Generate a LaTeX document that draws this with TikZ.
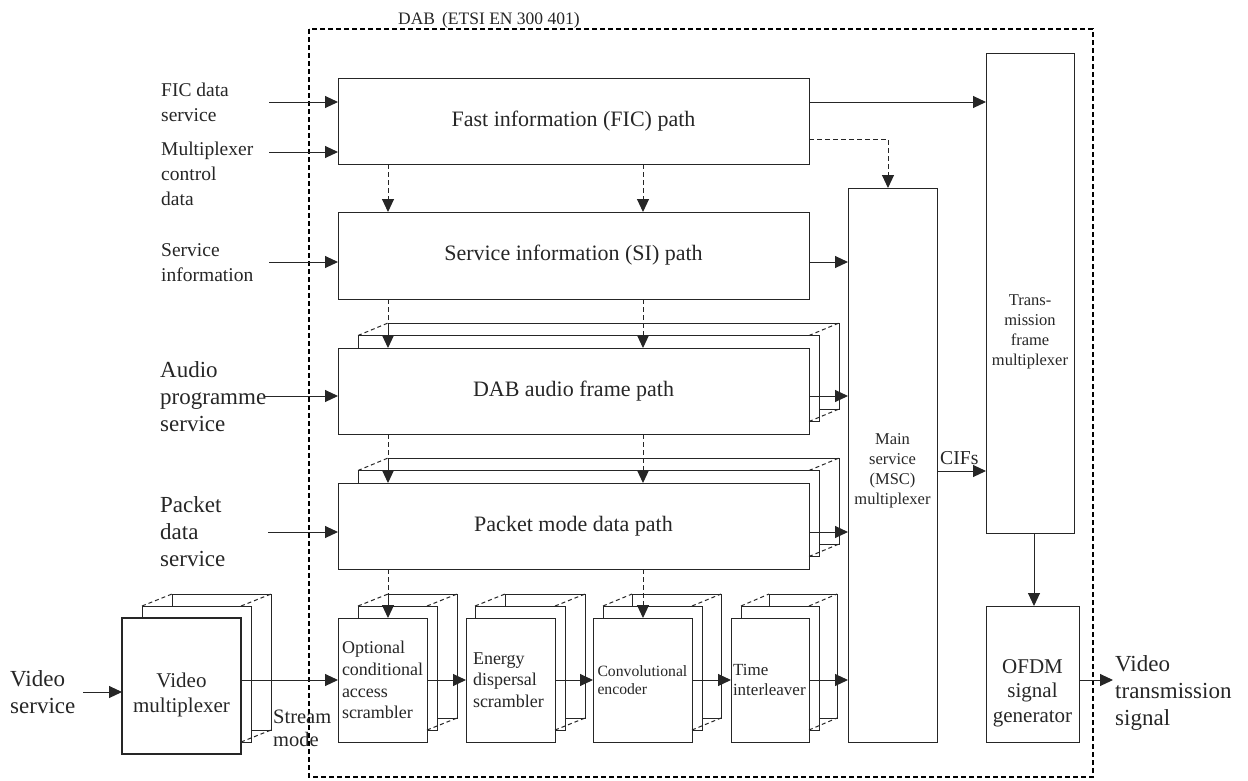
\documentclass[tikz,border=0pt]{standalone}
\usepackage{fontspec}
\setmainfont{Liberation Serif}
\usetikzlibrary{arrows.meta}
\definecolor{ink}{HTML}{262626}
\newcommand{\fsz}[2]{\fontsize{#1}{#2}\selectfont}
% stacked-layer outline behind a front box: l t r b a dx c
\newcommand{\stk}[7]{%
  \pgfmathsetmacro\qLa{#1+#5}%
  \pgfmathsetmacro\qLb{#1+#5+#6}%
  \pgfmathsetmacro\qRa{#3+10}%
  \pgfmathsetmacro\qRb{#3+#6}%
  \pgfmathsetmacro\qTa{#2-#7}%
  \pgfmathsetmacro\qTb{#2-2*#7}%
  \pgfmathsetmacro\qBa{#4-#7}%
  \pgfmathsetmacro\qBb{#4-2*#7}%
  \draw[ln] (\qLa,#2) -- (\qLa,\qTa) -- (\qRa,\qTa) -- (\qRa,\qBa) -- (#3,\qBa);
  \draw[ln] (\qLb,\qTa) -- (\qLb,\qTb) -- (\qRb,\qTb) -- (\qRb,\qBb) -- (\qRa,\qBb);
  \draw[ln,dash pattern=on 4pt off 3pt] (\qLa,\qTa) -- (\qLb,\qTb) (#3,\qTa) -- (\qRb,\qTb) (#3,\qBa) -- (\qRb,\qBb);
}
% box node: name l t r b options text
\newcommand{\bx}[7]{%
  \node[box, minimum width={#4-#2}, minimum height={#5-#3}, #6] (#1) at (#2,#3) {#7};
}
\begin{document}
\begin{tikzpicture}[x=1pt,y=-1pt,
  ln/.style={draw=ink, line width=1pt},
  box/.style={ln, rectangle, inner sep=0pt, outer sep=0pt, anchor=north west, text=ink},
  arr/.style={ln, -{Triangle[length=13pt,width=12pt]}},
  darr/.style={arr, dash pattern=on 5pt off 3pt},
  outer/.style={draw=black, line width=1.6pt, dash pattern=on 5pt off 3pt},
  lbl/.style={inner sep=0pt, align=left, anchor=west, text=ink},
  ctxt/.style={inner sep=0pt, align=center, text=ink},
  fB/.style={font=\fsz{22}{26}},
  fL/.style={font=\fsz{19.5}{25}},
  fM/.style={font=\fsz{23}{27}},
  fS/.style={font=\fsz{18}{21.7}},
  fC/.style={font=\fsz{15.7}{18.5}},
  fTi/.style={font=\fsz{17}{20}},
  fX/.style={font=\fsz{16.5}{20}},
  fO/.style={font=\fsz{21}{24.5}},
  fV/.style={font=\fsz{21}{25}},
  fSt/.style={font=\fsz{20.5}{23}},
  fTt/.style={font=\fsz{17.5}{20}}
]
\useasboundingbox (0,0) rectangle (1248,780);

% outer DAB frame
\draw[outer] (309,29) rectangle (1093,777);
\node[anchor=base west, inner sep=0pt, fTt, text=ink] (title) at (398,24) {DAB\hspace{0.4em}(ETSI EN 300 401)};

% layered stacks
\stk{338}{348}{809}{434}{20}{30}{12.5}
\stk{338}{483}{809}{569}{20}{30}{12.5}
\stk{122}{618}{241}{754}{20}{30}{12}
\stk{338}{618}{427}{742}{20}{30}{12}
\stk{466}{618}{555}{742}{9}{30}{12}
\stk{593}{618}{692}{742}{10}{29}{12}
\stk{731}{618}{809}{742}{10}{28}{12}

% front boxes
\bx{fic}{338}{78}{809}{164}{fB}{Fast information (FIC) path}
\bx{si}{338}{212}{809}{299}{fB}{Service information (SI) path}
\bx{audio}{338}{348}{809}{434}{fB}{DAB audio frame path}
\bx{packet}{338}{483}{809}{569}{fB}{Packet mode data path}
\bx{msc}{848}{188}{937}{742}{}{}
\bx{tfm}{986}{53}{1074}{533}{}{}
\bx{ofdm}{986}{606}{1079}{742}{}{}
\bx{vmux}{122}{618}{241}{754}{line width=2.6pt}{}
\bx{ocas}{338}{618}{427}{742}{fS, align=left, text width=81pt, inner xsep=4pt}{Optional\\conditional\\access\\scrambler}
\bx{eds}{466}{618}{555}{742}{fS, align=left, text width=75pt, inner xsep=7pt}{Energy\\dispersal\\scrambler}
\bx{conv}{593}{618}{692}{742}{fC, align=left, text width=90pt, inner xsep=4.5pt}{Convolutional\\encoder}
\bx{til}{731}{618}{809}{742}{fTi, align=left, text width=74pt, inner xsep=2pt}{Time\\interleaver}

% texts inside tall boxes
\node[ctxt, fX] (msct) at (892.5,471) {Main\\service\\(MSC)\\multiplexer};
\node[ctxt, fX] (tfmt) at (1030,332) {Trans-\\mission\\frame\\multiplexer};
\node[ctxt, fO] (ofdmt) at (1032.5,693) {OFDM\\signal\\generator};
\node[ctxt, fV] (vmuxt) at (181.5,695) {Video\\multiplexer};

% input labels
\node[lbl, fL] (l1) at (161,102.5) {FIC data\\service};
\node[lbl, fL] (l2) at (161,173.5) {Multiplexer\\control\\data};
\node[lbl, fL] (l3) at (161,263) {Service\\information};
\node[lbl, fM] (l4) at (160,397) {Audio\\programme\\service};
\node[lbl, fM] (l5) at (160,532) {Packet\\data\\service};
\node[lbl, fM] (l6) at (10,692.5) {Video\\service};
\node[lbl, fSt] (l7) at (273,728.5) {Stream\\mode};
\node[lbl, fM] (l8) at (1115,693) {Video\\transmission\\signal};
\node[anchor=base west, inner sep=0pt, text=ink, font=\fsz{19.7}{22}] (cifs) at (940,464) {CIFs};

% anchor coordinates
\coordinate (p1) at (269,102);
\coordinate (p2) at (269,152);
\coordinate (p3) at (269,262);
\coordinate (p4) at (264,396);
\coordinate (p5) at (268,532);
\coordinate (p6) at (83,692);
\coordinate (ch) at (0,680);
\coordinate (p7) at (0,471);
\coordinate (p8) at (1034,0);
\coordinate (out) at (1113,680);
\coordinate (c1) at (888,139);
\coordinate (va) at (388,0);
\coordinate (vb) at (643,0);

% input arrows
\draw[arr] (p1) -- (p1 -| fic.west);
\draw[arr] (p2) -- (p2 -| fic.west);
\draw[arr] (p3) -- (p3 -| si.west);
\draw[arr] (p4) -- (p4 -| audio.west);
\draw[arr] (p5) -- (p5 -| packet.west);
\draw[arr] (p6) -- (p6 -| vmux.west);

% bottom chain
\draw[arr] (ch -| vmux.east) -- (ch -| ocas.west);
\draw[arr] (ch -| ocas.east) -- (ch -| eds.west);
\draw[arr] (ch -| eds.east) -- (ch -| conv.west);
\draw[arr] (ch -| conv.east) -- (ch -| til.west);
\draw[arr] (ch -| til.east) -- (ch -| msc.west);

% into MSC
\draw[arr] (p3 -| si.east) -- (p3 -| msc.west);
\draw[arr] (p4 -| audio.east) -- (p4 -| msc.west);
\draw[arr] (p5 -| packet.east) -- (p5 -| msc.west);
\draw[darr] (c1 -| fic.east) -- (c1) -- (c1 |- msc.north);

% to transmission frame multiplexer and OFDM
\draw[arr] (p1 -| fic.east) -- (p1 -| tfm.west);
\draw[arr] (p7 -| msc.east) -- (p7 -| tfm.west);
\draw[arr] (p8 |- tfm.south) -- (p8 |- ofdm.north);
\draw[arr] (out -| ofdm.east) -- (out);

% dashed control arrows
\draw[darr] (va |- fic.south) -- (va |- si.north);
\draw[darr] (vb |- fic.south) -- (vb |- si.north);
\draw[darr] (va |- si.south) -- (va |- audio.north);
\draw[darr] (vb |- si.south) -- (vb |- audio.north);
\draw[darr] (va |- audio.south) -- (va |- packet.north);
\draw[darr] (vb |- audio.south) -- (vb |- packet.north);
\draw[darr] (va |- packet.south) -- (va |- ocas.north);
\draw[darr] (vb |- packet.south) -- (vb |- conv.north);
\end{tikzpicture}
\end{document}
